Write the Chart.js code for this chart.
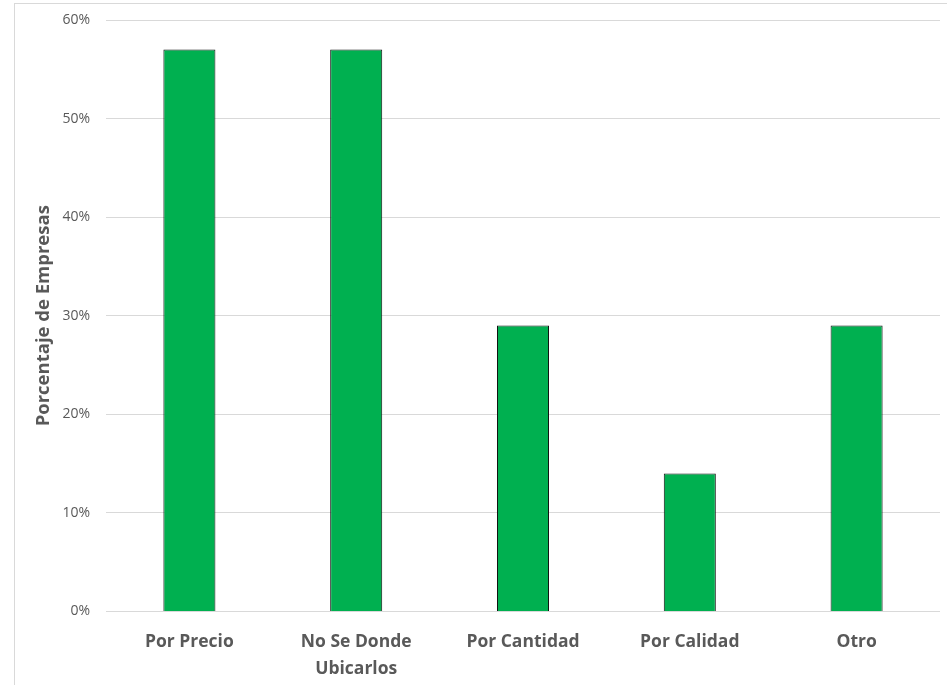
<!DOCTYPE html>
<html lang="es">
<head>
<meta charset="utf-8">
<title>Porcentaje de Empresas</title>
<script src="https://cdn.jsdelivr.net/npm/chart.js@4.4.1/dist/chart.umd.min.js"></script>
<style>
  html, body { margin: 0; padding: 0; background: #fff; overflow: hidden; }
  #wrap { position: relative; width: 947px; height: 685px; }
  #frame {
    position: absolute; left: 14px; top: 3px; width: 940px; height: 690px;
    border: 1px solid #d9d9d9; box-sizing: border-box; pointer-events: none;
  }
  canvas { position: absolute; left: 0; top: 0; }
</style>
</head>
<body>
<div id="wrap">
  <div id="frame"></div>
  <canvas id="chart" width="947" height="685"></canvas>
</div>
<script>
// categorias del eje x
const categories = ["Por Precio", ["No Se Donde", "Ubicarlos"], "Por Cantidad", "Por Calidad", "Otro"];
// porcentaje de empresas (%)
const values = [57, 57, 29, 14, 29];
// marcas del eje y
const yTicks = [0, 10, 20, 30, 40, 50, 60];

const gray = "#595959";
const gridColor = "#d9d9d9";

function drawChart(el) {
  const ctx = el.getContext("2d");
  return new Chart(ctx, {
    type: "bar",
    data: {
      labels: categories,
      datasets: [
        {
          label: "Porcentaje de Empresas",
          data: values,
          backgroundColor: "#00b050",
          borderColor: "#111",
          borderWidth: 1,
          categoryPercentage: 1,
          barPercentage: 0.312,
        },
      ],
    },
    options: {
      responsive: false,
      animation: false,
      layout: {
        padding: { left: 14, right: 7, top: 20, bottom: 0 },
      },
      plugins: {
        legend: { display: false },
        tooltip: { enabled: false },
      },
      scales: {
        x: {
          grid: { display: false },
          border: { display: false },
          ticks: {
            color: gray,
            padding: 9,
            font: { family: "'Open Sans'", size: 17.5, weight: "bold", lineHeight: 1.55 },
            maxRotation: 0,
            autoSkip: false,
          },
          afterFit: (scale) => { scale.height = 73.5; },
        },
        y: {
          min: 0,
          max: 60,
          afterBuildTicks: (scale) => {
            scale.ticks = yTicks.map((v) => ({ value: v }));
          },
          grid: { color: gridColor, drawTicks: false },
          border: { display: false },
          ticks: {
            color: gray,
            padding: 16,
            font: { family: "'Open Sans'", size: 14 },
            callback: (v) => v + "%",
          },
          title: {
            display: true,
            text: "Porcentaje de Empresas",
            color: gray,
            padding: { top: 19, bottom: 0 },
            font: { family: "'Open Sans'", size: 18.5, weight: "bold" },
          },
          afterFit: (scale) => {
            // ancho fijo y sin relleno extra arriba/abajo
            scale.width = 92;
            scale.paddingTop = 0;
            scale.paddingBottom = 0;
          },
        },
      },
    },
  });
}

drawChart(document.getElementById("chart"));
</script>
</body>
</html>
